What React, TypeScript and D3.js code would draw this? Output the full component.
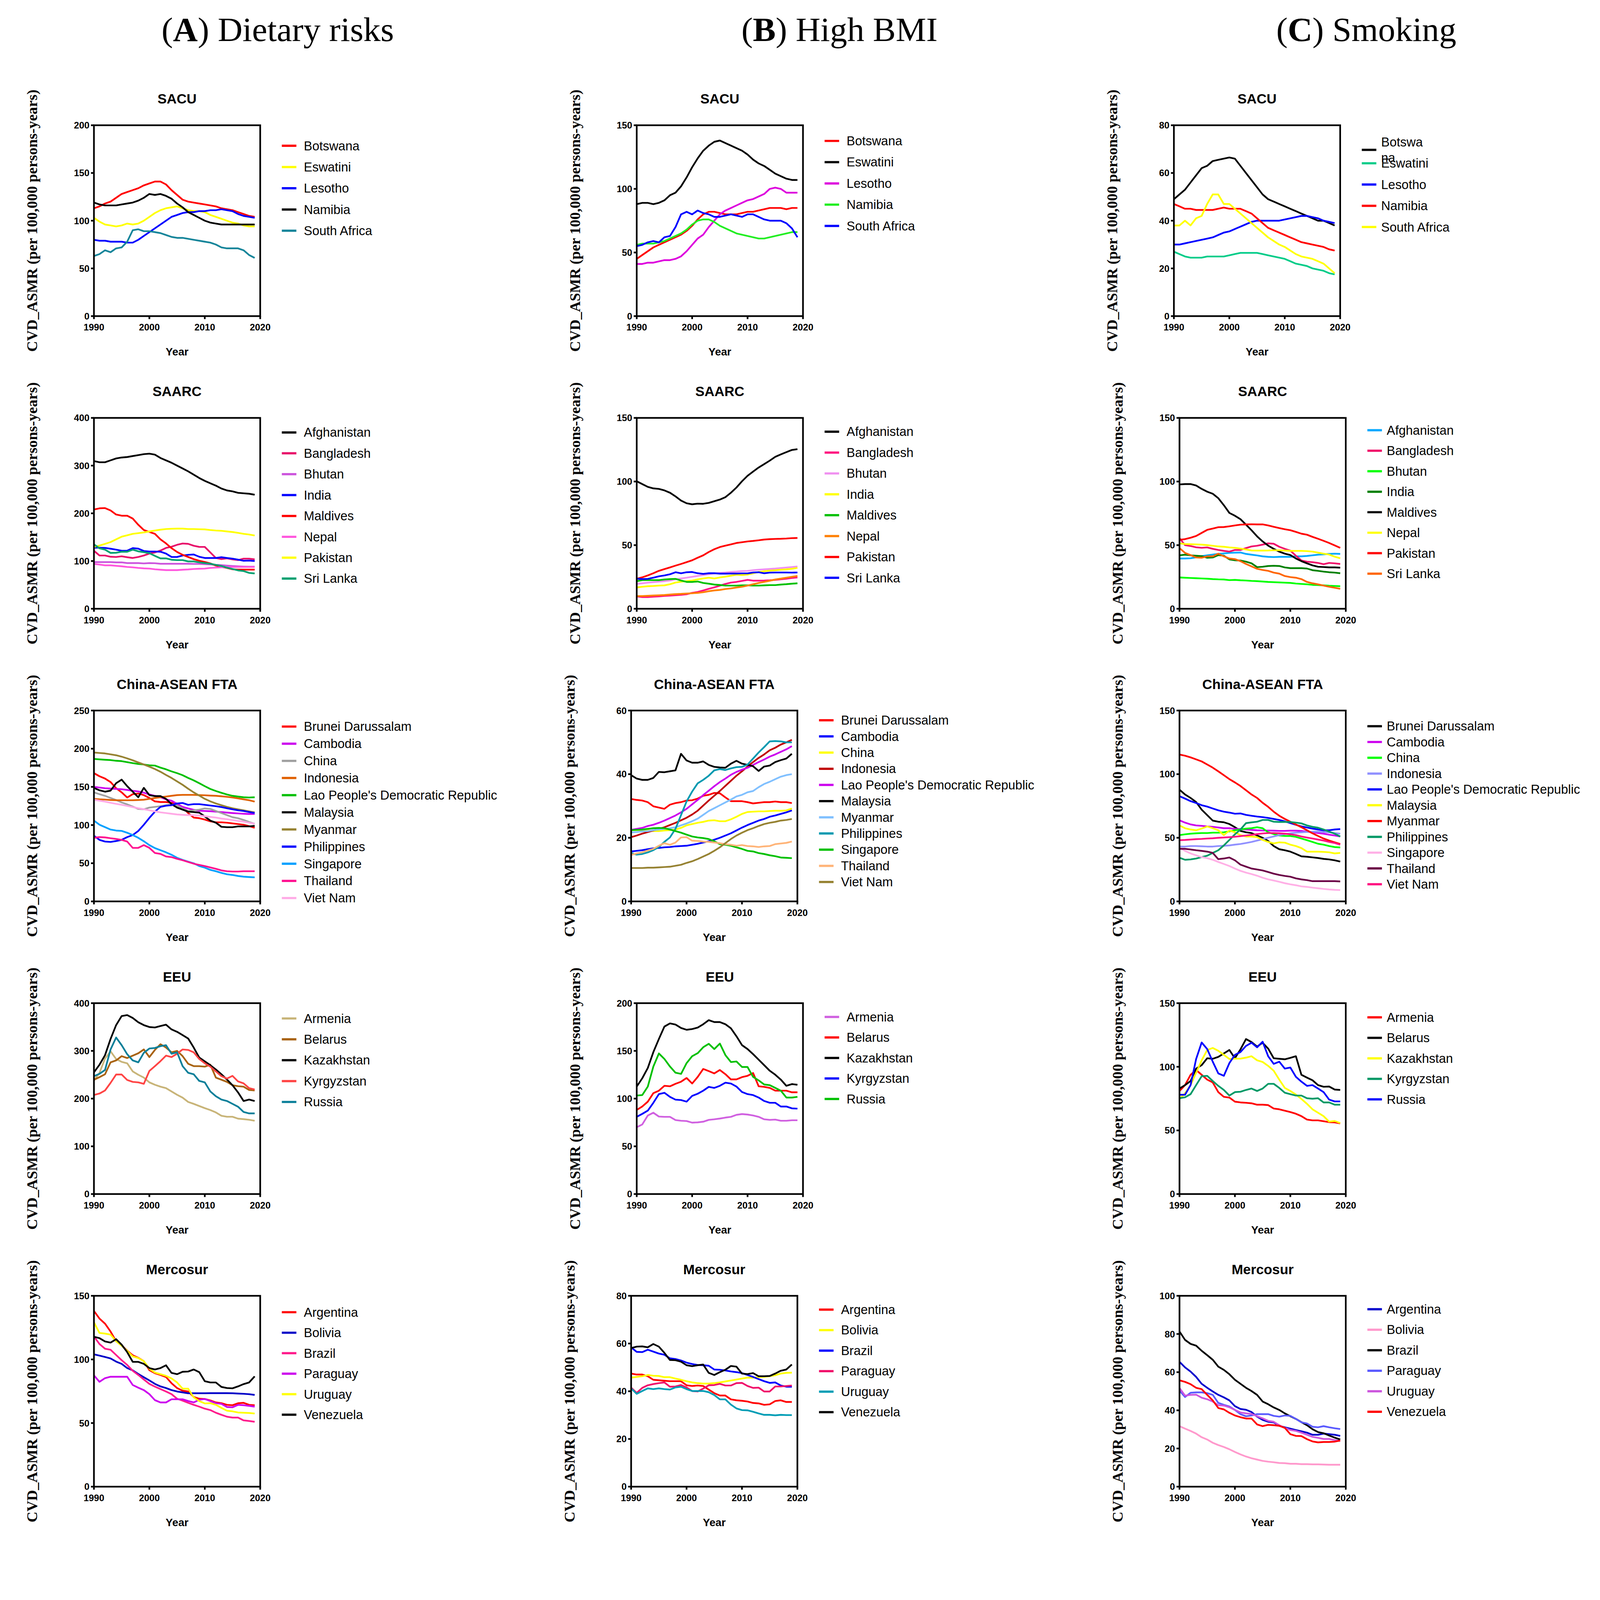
import * as d3 from "d3";

// ---- years (x axis categories) ----
const years = [1990, 1991, 1992, 1993, 1994, 1995, 1996, 1997, 1998, 1999, 2000, 2001, 2002, 2003, 2004, 2005, 2006, 2007, 2008, 2009, 2010, 2011, 2012, 2013, 2014, 2015, 2016, 2017, 2018, 2019];
const xTicks = [1990, 2000, 2010, 2020];

// ---- country lists ----
const sacuNames = ["Botswana", "Eswatini", "Lesotho", "Namibia", "South Africa"];
const saarcNames = ["Afghanistan", "Bangladesh", "Bhutan", "India", "Maldives", "Nepal", "Pakistan", "Sri Lanka"];
const caftaNames = ["Brunei Darussalam", "Cambodia", "China", "Indonesia", "Lao People's Democratic Republic", "Malaysia", "Myanmar", "Philippines", "Singapore", "Thailand", "Viet Nam"];
const eeuNames = ["Armenia", "Belarus", "Kazakhstan", "Kyrgyzstan", "Russia"];
const mercNames = ["Argentina", "Bolivia", "Brazil", "Paraguay", "Uruguay", "Venezuela"];

// ---- (A) Dietary risks ----
const dietSacuBotswana = [113, 115, 118, 120, 124, 128, 130, 132, 134, 137, 139, 141, 141, 138, 132, 127, 122, 120, 119, 118, 117, 116, 115, 113, 112, 111, 109, 107, 105, 104];
const dietSacuEswatini = [103, 99, 96, 95, 94, 95, 97, 96, 97, 100, 104, 108, 111, 113, 114, 115, 113, 111, 110, 110, 109, 106, 104, 102, 100, 98, 97, 95, 94, 94];
const dietSacuLesotho = [80, 79, 79, 78, 78, 78, 77, 77, 80, 84, 88, 92, 96, 100, 104, 106, 108, 109, 109, 110, 110, 111, 111, 112, 111, 110, 107, 105, 104, 103];
const dietSacuNamibia = [119, 117, 116, 116, 116, 117, 118, 119, 121, 124, 128, 127, 128, 126, 123, 118, 114, 109, 106, 103, 100, 98, 97, 96, 96, 96, 96, 96, 96, 96];
const dietSacuSouthAfrica = [63, 65, 69, 67, 71, 72, 78, 90, 91, 89, 89, 88, 87, 85, 83, 82, 82, 81, 80, 79, 78, 77, 75, 72, 71, 71, 71, 69, 64, 61];

const dietSaarcAfghanistan = [309.5, 307, 307, 311, 315, 317, 318, 320, 322, 324, 325, 323, 316, 311, 306, 300, 294, 288, 281, 274, 268, 263, 258, 252, 248, 246, 243, 242, 241, 239];
const dietSaarcBangladesh = [121.5, 111.6, 111.6, 109, 108.5, 110, 108, 106.4, 108.5, 111.6, 115.7, 118, 122, 127.5, 130, 134, 136.8, 136, 132, 129.6, 129.6, 118, 106.4, 104, 105.6, 103.5, 102, 105, 105, 103.5];
const dietSaarcBhutan = [97.8, 97.8, 97.8, 97.8, 97.2, 97.2, 95.7, 95.7, 95.7, 95, 95.7, 95.4, 94.3, 94.3, 94.3, 94.3, 94.3, 94.3, 94, 94, 93.4, 92.8, 92, 91.5, 90.5, 89.7, 89, 88.5, 88.2, 88.2];
const dietSaarcIndia = [128, 128, 127.5, 125.8, 123.8, 121.5, 121.8, 127, 126, 121, 120, 120, 119.5, 115.7, 108.5, 108.5, 111.6, 113, 113.7, 109, 106.4, 106.4, 106.4, 108, 106.4, 105, 103, 100.6, 101, 100];
const dietSaarcMaldives = [208, 210.5, 211, 206, 197.5, 195, 195, 189, 176, 165, 161, 157, 145.5, 137, 127, 119, 113, 108.5, 104, 100.6, 98, 95, 90.5, 87.6, 85.6, 82.7, 82, 82, 82, 82];
const dietSaarcNepal = [94, 92.5, 91, 91, 90, 89, 87.6, 86.8, 85.6, 84.7, 84.2, 82.7, 81.8, 81, 81, 81, 81.8, 82.4, 83.3, 83.9, 84.2, 85.6, 86.2, 86.8, 87, 87.6, 87.6, 87.6, 87.6, 87.6];
const dietSaarcPakistan = [129.6, 132.5, 136, 139.7, 145.5, 151, 154, 157, 158.5, 160, 162, 164, 165.7, 167, 167.7, 168, 168, 167, 167, 166.6, 166.3, 165, 164, 163.4, 162, 160.8, 159, 157, 155.6, 153.6];
const dietSaarcSriLanka = [135, 126.7, 123.8, 117, 117.4, 119.5, 119.5, 123.8, 120.3, 118.6, 116.5, 110.8, 105.6, 105.6, 102.7, 102, 102, 99.2, 99.2, 97.2, 95.7, 94.3, 92, 89.7, 86.2, 83.3, 80.4, 79, 75.2, 74];

const dietCaBrunei = [168, 163.9, 160.9, 156.3, 148.3, 142.8, 136.1, 140.4, 141.3, 139.2, 135.5, 131, 130.1, 130.1, 129.2, 128.3, 122.9, 115.7, 109.8, 109, 107.2, 104.9, 103.6, 103.6, 103.1, 102.2, 101.3, 100.4, 98.6, 96.4];
const dietCaCambodia = [150, 149.1, 148.2, 147.8, 147.3, 146.9, 146, 144.9, 144, 142.4, 140, 138.3, 136.4, 133.7, 131.9, 127.8, 123.8, 121.7, 119.9, 118.8, 118.4, 118.1, 117.5, 117, 116.3, 115.7, 115.2, 114.8, 114.5, 114.5];
const dietCaChina = [142.8, 140.4, 138.3, 135.5, 132.8, 129.6, 127.1, 124.2, 121.1, 120.6, 122.9, 123.8, 124.7, 126, 127.1, 125.6, 122, 118.4, 119.3, 120.2, 121.7, 121.1, 118.4, 115.7, 113, 110.3, 109, 106.7, 104, 101.7];
const dietCaIndonesia = [134.3, 133.7, 133.4, 132.8, 132.5, 132.5, 132.5, 132.5, 132.8, 133.2, 134.3, 135.5, 136.4, 137.3, 138.3, 139.2, 139.5, 139.5, 139.5, 139.2, 139, 138.6, 138.3, 137.7, 137, 136.1, 135, 133.7, 132.5, 130.7];
const dietCaLao = [186.6, 186, 185.5, 185.1, 184.2, 183.7, 182.4, 181.1, 180, 179.3, 178.3, 177.9, 175.2, 173, 170.3, 168, 165.3, 161.7, 158.5, 154.8, 150.9, 147.3, 144.6, 142.2, 140, 138.3, 137.3, 136.4, 136.1, 136.4];
const dietCaMalaysia = [148.7, 145.5, 143.7, 145.1, 154.8, 159.5, 150.9, 143.7, 136.4, 148.7, 139.2, 137.9, 137.9, 134.3, 127.4, 122.9, 120.2, 117.5, 117, 116.3, 111.2, 105.8, 103.1, 97.7, 97.2, 97.2, 98.2, 98.2, 98.2, 99];
const dietCaMyanmar = [195, 194.4, 193.8, 192.6, 191.4, 189.6, 187.3, 184.8, 182, 179.3, 176.5, 173.4, 169.8, 165.6, 161.7, 157.2, 152.7, 147.6, 142.8, 138.6, 134.3, 131, 128.3, 126, 123.8, 122, 120.6, 119.3, 117.9, 116.6];
const dietCaPhilippines = [86, 80.6, 78.4, 77.9, 79.1, 80.6, 84.2, 86.9, 92.3, 100.4, 109.4, 117.5, 123.8, 125.3, 126, 128.3, 128.9, 126.5, 127.4, 127.4, 126.5, 125.6, 124.7, 123.5, 122, 120.6, 119.3, 118.4, 117, 115.7];
const dietCaSingapore = [105.8, 100.4, 97.2, 94.1, 92.8, 92.3, 89.9, 86.9, 83.3, 78.8, 73.7, 69.8, 67.1, 64.3, 61.1, 57.1, 54.4, 52.1, 49.9, 46.3, 44.2, 41.3, 39.5, 37.3, 35.5, 34.6, 33.3, 32.4, 31.9, 31.5];
const dietCaThailand = [83.3, 84.2, 83.8, 82.7, 81.8, 80.6, 78.4, 70.1, 70.1, 73.7, 70.1, 63.4, 62.2, 58.9, 58, 55.7, 53.9, 51.7, 49.4, 47.8, 46.3, 44.5, 42.7, 40.6, 39.5, 39.1, 39.1, 39.5, 39.5, 39.5];
const dietCaVietNam = [133.2, 131.9, 130.7, 129.2, 127.8, 126.5, 125.1, 123.5, 122, 120.8, 119.3, 117.9, 116.6, 115.7, 114.8, 113.9, 113.4, 113, 113, 112.5, 111.6, 110.7, 109.8, 108.5, 107.6, 106.5, 105.4, 104.4, 103.1, 101.7];

const dietEeuArmenia = [238, 254, 284, 299, 283, 277, 274, 257, 250, 244, 234, 229, 225, 222, 215, 208, 202, 193, 189, 184.5, 180, 176, 171, 164, 162, 162, 158, 157, 155.6, 153.6];
const dietEeuBelarus = [239.5, 245, 251, 276, 280, 289, 285, 290, 295, 303, 287, 302, 314, 307, 297, 300, 289, 273, 268, 268, 267, 271, 244, 239.5, 235, 228, 226, 225, 218, 217];
const dietEeuKazakhstan = [255, 271, 291, 325, 354, 373, 375, 369, 360, 354, 350, 349, 352, 355, 345, 340, 333, 326, 307, 286, 278, 270, 261, 251, 240, 228, 213, 195, 198, 195];
const dietEeuKyrgyzstan = [207.7, 210.6, 217, 233, 250.5, 250.5, 239, 235, 234, 231, 258, 268, 278.5, 290, 287, 294, 303, 302, 297, 283, 274, 267, 257, 247, 242, 247.6, 236, 232, 222, 219];
const dietEeuRussia = [247, 252, 260, 303, 328, 312, 293, 280, 276, 296, 305, 306, 310, 312, 294, 297, 268, 254, 251, 237, 234, 215, 205, 198, 195, 189, 183, 172, 169, 169];

const dietMercArgentina = [138.1, 132.1, 128.1, 121.9, 114.3, 111.1, 106.9, 103.3, 101.3, 98.6, 91.6, 89.2, 87.8, 86.2, 81.3, 77.5, 75.4, 74.8, 70.5, 69.1, 68.9, 67.8, 66.2, 65.6, 64.3, 64, 65.6, 65.9, 64.3, 64];
const dietMercBolivia = [104, 103, 101.9, 100.8, 98.3, 96.5, 93.2, 91.4, 88.6, 86, 83.5, 80.8, 78.8, 77.5, 75.9, 74.8, 74.1, 73.4, 73.4, 73.4, 73.4, 73.5, 73.5, 73.5, 73.5, 73.4, 73.2, 73, 72.7, 72.1];
const dietMercBrazil = [118.1, 112.1, 108.4, 107.6, 103.5, 99.4, 95.7, 91.1, 87.8, 84.2, 80.8, 78.6, 76.7, 74.8, 72.7, 69.1, 67.6, 65.9, 64.3, 62.9, 61.3, 60.2, 58.1, 56.5, 55, 54.3, 54.3, 52.1, 51.6, 51];
const dietMercParaguay = [87.5, 82.4, 85.3, 86.4, 86.4, 86.4, 86.4, 79.9, 77.8, 75.9, 72.7, 68, 66.2, 66.2, 68.7, 68.7, 68.7, 67.3, 66.2, 68.3, 68.9, 67.3, 65.6, 65.1, 62.6, 62.4, 64.3, 64, 63.5, 62.9];
const dietMercUruguay = [129.2, 120.8, 120.3, 119.5, 114.3, 110.8, 106.7, 102.4, 101.1, 98.6, 92.7, 89.7, 88.4, 87.1, 85.1, 81.9, 77, 77, 70.2, 67.3, 65.4, 65.6, 64.3, 61.9, 59.7, 59.2, 58.3, 58.1, 57.9, 57.5];
const dietMercVenezuela = [117.8, 116.7, 114.1, 113.2, 115.9, 111.6, 105.7, 98.1, 98.1, 96.5, 93.2, 92.1, 93.2, 95.4, 89.4, 88.4, 90.3, 90.5, 92.1, 90, 82.9, 81.9, 81.9, 78.4, 77.5, 77.3, 78.8, 80.6, 81.9, 86.7];

// ---- (B) High BMI ----
const bmiSacuBotswana = [45, 48, 51, 54, 56, 58, 60, 62, 64, 67, 71, 76, 80, 82, 82, 81, 80, 80, 80, 81, 82, 82, 83, 84, 85, 85, 85, 84, 85, 85];
const bmiSacuEswatini = [88, 89, 89, 88, 89, 91, 95, 97, 102, 109, 117, 124, 130, 134, 137, 138, 136, 134, 132, 130, 127, 123, 120, 118, 115, 112, 110, 108, 107, 107];
const bmiSacuLesotho = [41, 41, 42, 42, 43, 44, 44, 45, 47, 51, 56, 61, 64, 70, 75, 80, 83, 85, 87, 89, 91, 92, 94, 96, 100, 101, 100, 97, 97, 97];
const bmiSacuNamibia = [56, 57, 57, 57, 58, 59, 61, 63, 65, 68, 72, 75, 76, 76, 74, 71, 69, 67, 65, 64, 63, 62, 61, 61, 62, 63, 64, 65, 66, 66];
const bmiSacuSouthAfrica = [55, 56, 58, 59, 58, 62, 63, 70, 80, 82, 80, 83, 81, 80, 78, 78, 79, 80, 79, 78, 80, 80, 78, 76, 75, 75, 75, 73, 69, 62];

const bmiSaarcAfghanistan = [100.2, 98, 95.8, 94.6, 94.2, 93, 91.2, 88.3, 85, 82.9, 82.1, 82.6, 82.5, 83.2, 84.5, 85.8, 87.7, 91.2, 95.3, 100.2, 104.5, 107.8, 111, 113.7, 116.4, 119.4, 121.3, 123.1, 124.8, 125.4];
const bmiSaarcBangladesh = [9.7, 9.2, 9.2, 9.5, 9.7, 10.1, 10.3, 10.6, 10.9, 11.4, 12.5, 13.2, 14.4, 15.7, 16.8, 18.1, 19.5, 20.6, 21.1, 21.9, 22.7, 22.1, 22.1, 22.2, 22.4, 22.7, 23.1, 23.6, 24.2, 24.6];
const bmiSaarcBhutan = [19.5, 20, 20.5, 20.9, 21.3, 21.7, 22.2, 23.1, 23.8, 24.4, 25.1, 25.8, 26.5, 27.1, 27.7, 28.2, 28.5, 28.9, 29.2, 29.6, 29.8, 30.3, 30.7, 31, 31.3, 31.6, 32, 32.4, 32.8, 33.2];
const bmiSaarcIndia = [16.8, 17.3, 17.7, 17.9, 18.2, 18.4, 19.3, 20.6, 21.3, 21.7, 22.2, 23.1, 23.8, 24.4, 23.8, 24.6, 25.2, 26, 26.8, 26.5, 26.9, 27.9, 28.9, 29.5, 30, 30.3, 30.7, 31, 31.4, 32.2];
const bmiSaarcMaldives = [21.7, 22.5, 22.5, 22.5, 22.5, 23, 23.3, 23.5, 22.2, 21.1, 21.1, 21.4, 20.3, 19.7, 19, 18.7, 18.2, 18.2, 18.2, 18.4, 18.4, 18.2, 18.2, 18.4, 18.6, 18.6, 19, 19.3, 19.7, 20];
const bmiSaarcNepal = [10, 10, 10.2, 10.4, 10.6, 10.8, 11.2, 11.5, 11.7, 12, 12.2, 12.5, 13, 13.8, 14.4, 14.8, 15.5, 16, 16.7, 17.3, 18.2, 19.3, 20.3, 21.1, 22, 23, 23.7, 24.4, 25.1, 25.8];
const bmiSaarcPakistan = [23.6, 24.7, 26.2, 27.9, 29.8, 31.2, 32.5, 33.9, 35.2, 36.6, 38.1, 40.1, 42, 44.6, 46.8, 48.5, 49.6, 50.6, 51.7, 52.3, 52.9, 53.3, 53.8, 54.4, 54.7, 54.9, 55, 55.2, 55.5, 55.6];
const bmiSaarcSriLanka = [23.6, 23.3, 23.5, 24.4, 25.5, 26.2, 27.1, 28.7, 27.9, 28.7, 28.9, 27.9, 27.4, 27.9, 27.9, 27.6, 27.6, 27.7, 27.7, 27.8, 27.8, 28.5, 28.7, 27.9, 28.4, 28.5, 28.5, 28.5, 28.4, 28.5];

const bmiCaBrunei = [32.2, 31.9, 31.7, 31.2, 29.9, 29.5, 29.1, 30.4, 30.9, 31.2, 31.7, 31.8, 32.3, 33.2, 33.5, 34.1, 34, 32.7, 31.5, 31.5, 31.5, 31.2, 30.8, 31, 31.2, 31.2, 31.4, 31.2, 31.2, 30.9];
const bmiCaCambodia = [15.7, 15.9, 16.1, 16.4, 16.7, 16.8, 17, 17.1, 17.3, 17.4, 17.5, 17.8, 18.1, 18.5, 18.9, 19.4, 20, 20.7, 21.4, 22.3, 23.2, 24, 24.7, 25.4, 25.9, 26.6, 27, 27.5, 28, 28.6];
const bmiCaChina = [22.4, 22.4, 22.4, 22.3, 22.1, 22.1, 22.3, 22.4, 22.6, 23.1, 23.9, 24.3, 24.7, 25, 25.4, 25.5, 25.2, 25.2, 25.8, 26.6, 27.5, 28.1, 28.2, 28.3, 28.3, 28.4, 28.5, 28.5, 28.6, 29.2];
const bmiCaIndonesia = [20.2, 20.7, 21.3, 21.8, 22.3, 22.8, 23.3, 24, 24.7, 25.5, 26.3, 27.3, 28.5, 30.1, 31.7, 33.2, 34.7, 36.3, 37.9, 39.5, 40.9, 42.4, 43.8, 45.1, 46.2, 47.5, 48.3, 49.3, 50, 50.8];
const bmiCaLao = [22.5, 22.8, 23.1, 23.7, 24.1, 24.7, 25.4, 26.2, 27, 28, 29.1, 30.5, 31.9, 33.4, 34.8, 36.2, 37.5, 38.6, 39.8, 40.7, 41.4, 42, 42.9, 43.8, 44.6, 45.5, 46.2, 47, 47.8, 48.8];
const bmiCaMalaysia = [39.7, 38.6, 38.2, 38.2, 38.8, 40.7, 40.6, 40.9, 41.2, 46.4, 44.3, 43.6, 43.6, 44, 42.9, 42.3, 42.1, 42, 43.3, 44.2, 43.3, 42.9, 42.5, 41, 42.4, 42.7, 43.8, 44.4, 44.9, 46.4];
const bmiCaMyanmar = [21.7, 21.8, 22, 22.1, 22.4, 22.6, 22.8, 23, 23.3, 23.9, 24.5, 25.2, 26, 27.2, 28.4, 29.3, 30.2, 31.1, 32, 33, 33.5, 34.3, 34.7, 35.9, 36.9, 37.6, 38.4, 39.2, 39.7, 40];
const bmiCaPhilippines = [15.2, 14.7, 14.9, 15.4, 16.1, 17.1, 18.7, 20.1, 22.8, 27.1, 31.4, 34.5, 37.1, 38.2, 39.5, 41.2, 41.6, 41.3, 41.8, 42.2, 42.3, 43, 44.9, 46.8, 48.5, 50.3, 50.4, 50.3, 50, 50];
const bmiCaSingapore = [22.4, 22.5, 22.6, 22.8, 23, 23.1, 23, 22.6, 22.1, 21.6, 21, 20.4, 20.1, 19.9, 19.6, 18.9, 18, 17.8, 17.5, 17, 16.5, 15.9, 15.7, 15.2, 14.9, 14.5, 14.2, 13.8, 13.7, 13.6];
const bmiCaThailand = [14.6, 15.1, 15.4, 16, 16.5, 17.5, 18.3, 17.8, 18.5, 20.1, 20.2, 19.1, 19, 18.8, 18.7, 18.5, 18.3, 18, 17.8, 17.5, 17.7, 17.4, 17.3, 17.1, 17.3, 17.4, 18, 18.2, 18.4, 18.8];
const bmiCaVietNam = [10.5, 10.5, 10.5, 10.6, 10.6, 10.7, 10.8, 10.9, 11.2, 11.5, 12.1, 12.6, 13.3, 14.1, 14.9, 15.9, 17, 18.3, 19.6, 20.7, 21.6, 22.4, 23, 23.7, 24.3, 24.7, 25, 25.4, 25.6, 25.9];

const bmiEeuArmenia = [70, 72.9, 82.3, 85.2, 81.2, 80.9, 80.9, 77.5, 76.8, 76.5, 74.8, 75.1, 75.8, 77.7, 78.3, 79.1, 80.1, 80.9, 83, 83.8, 83.3, 82.3, 80.9, 78.3, 77.7, 78, 76.8, 76.8, 77.3, 77.3];
const bmiEeuBelarus = [88.1, 91.7, 96.8, 105.7, 108.3, 113.4, 112.9, 115.5, 117.7, 121.6, 115.8, 122.7, 131.1, 128.8, 126.4, 130, 125.6, 120.1, 120.1, 122.5, 123.9, 126.8, 112.9, 112.3, 111.2, 108.3, 108.3, 108.3, 106.6, 106.6];
const bmiEeuKazakhstan = [112.6, 121.3, 132.1, 148.7, 162.5, 175.5, 178.8, 177.6, 174, 172.1, 172.9, 174.4, 177.9, 182.2, 180.2, 180.2, 177.9, 173.6, 165.3, 156, 151.9, 146.6, 140.8, 135, 129.2, 125, 119.9, 113.4, 115.2, 114.5];
const bmiEeuKyrgyzstan = [80.9, 84, 87.4, 95.6, 104.7, 106.1, 101.8, 98.9, 98.5, 96.8, 102.8, 105.1, 108.3, 112.3, 111.2, 113.4, 116.7, 115.8, 112.6, 106.9, 104.7, 103.7, 101.1, 97.5, 95.6, 95.6, 91.7, 91.7, 89.8, 89.5];
const bmiEeuRussia = [103.2, 103.7, 112.6, 133.6, 147.3, 141.5, 133.6, 127.1, 125.9, 137.2, 144.4, 147.6, 153.8, 157.4, 151.9, 157.7, 145.6, 138.3, 138.9, 133.1, 133.1, 122.7, 119.1, 114.8, 114.1, 111.2, 108.3, 101.1, 101.1, 101.8];

const bmiMercArgentina = [47.4, 47, 47, 46.3, 44.8, 44.6, 44.4, 44.2, 44.2, 44.2, 42.5, 42.2, 42.4, 42.2, 40.7, 39.2, 38.2, 38.2, 36.6, 36.2, 36, 35.7, 35.1, 34.9, 34.3, 34.5, 35.9, 36.2, 35.5, 35.5];
const bmiMercBolivia = [45.7, 46, 46.3, 46.8, 46.5, 46.4, 45.9, 45.9, 45.3, 44.8, 44.2, 43.7, 43.4, 43.2, 43.2, 43.4, 43.7, 44.1, 44.5, 44.9, 45.3, 45.7, 45.7, 45.9, 46, 46.3, 46.7, 47.4, 47.7, 47.8];
const bmiMercBrazil = [58.4, 56.5, 56.4, 57.4, 56.6, 55.8, 55.3, 53.8, 53.5, 52.9, 52, 51.4, 51, 50.9, 50.7, 49.1, 49, 48.7, 48.3, 48, 47.6, 46.8, 46, 45.1, 44.2, 43.5, 43.7, 42.4, 41.9, 41.9];
const bmiMercParaguay = [41.5, 39.3, 41.4, 42.5, 43, 43.4, 43.7, 41.9, 42, 42.6, 41.6, 40.1, 39.9, 41.1, 42.5, 42.6, 43.1, 42.4, 42.4, 43.4, 43.5, 42.2, 41.4, 41.5, 39.9, 39.9, 42, 42, 42.2, 42.4];
const bmiMercUruguay = [41.2, 38.9, 40.1, 41.2, 40.9, 41.2, 40.9, 40.7, 41.6, 41.9, 40.9, 40.1, 40.1, 40.1, 39.6, 38.4, 36.6, 36.6, 34.4, 32.8, 32.1, 32, 31.4, 30.7, 30.1, 30.1, 29.9, 30.1, 30, 30];
const bmiMercVenezuela = [58.1, 58.7, 58.8, 58.4, 59.8, 58.7, 56.1, 53.1, 53, 52.4, 50.9, 50.5, 50.9, 51.2, 47.7, 46.8, 48, 49, 50.6, 50.3, 47.4, 47.2, 47.6, 46.3, 46.3, 46.4, 47.4, 48.6, 49.1, 51.2];

// ---- (C) Smoking ----
const smkSacuBotswana = [49, 51, 53, 56, 59, 62, 63, 65, 65.5, 66, 66.5, 66, 63, 60, 57, 54, 51, 49, 48, 47, 46, 45, 44, 43, 42, 41, 40, 40, 39, 38];
const smkSacuEswatini = [27, 26, 25, 24.5, 24.5, 24.5, 25, 25, 25, 25, 25.5, 26, 26.5, 26.5, 26.5, 26.5, 26, 25.5, 25, 24.5, 24, 23, 22, 21.5, 21, 20, 19.5, 19, 18, 17.5];
const smkSacuLesotho = [30, 30, 30.5, 31, 31.5, 32, 32.5, 33, 34, 35, 35.5, 36.5, 37.5, 38.5, 39.5, 40, 40, 40, 40, 40, 40.5, 41, 41.5, 42, 42, 41.5, 41, 40, 39.5, 39];
const smkSacuNamibia = [47, 46, 45, 45, 44.5, 44.5, 44.5, 44.5, 45, 45.5, 45, 45, 45, 44, 43, 41, 39, 37, 36, 35, 34, 33, 32, 31, 30.5, 30, 29.5, 29, 28, 27.5];
const smkSacuSouthAfrica = [38, 38, 40, 38, 41, 42, 47, 51, 51, 47, 47, 45, 43, 41, 39, 37, 35, 33, 31.5, 30, 29, 27.5, 26, 25, 24.5, 24, 23, 22, 20, 18];

const smkSaarcAfghanistan = [39.5, 39.5, 39.7, 40.4, 41.4, 42, 42.6, 43.1, 43.5, 43.9, 44.1, 44.2, 43.1, 42.5, 41.9, 41.2, 40.8, 40.6, 40.8, 40.8, 40.8, 41.2, 41.2, 41.5, 42, 42.5, 42.8, 43.1, 43.3, 43.1];
const smkSaarcBangladesh = [55.5, 50, 49.3, 48.3, 47.9, 48.2, 47.1, 46.2, 45.5, 44.9, 46.2, 46.2, 47.7, 49, 49.5, 50.4, 51.4, 51.1, 48.7, 47.1, 45.7, 41.7, 37.9, 37, 36.6, 36, 35, 36, 35.7, 35.2];
const smkSaarcBhutan = [24.6, 24.4, 24.2, 24, 23.8, 23.6, 23.3, 23.1, 23, 22.5, 22.7, 22.4, 22.2, 21.9, 21.7, 21.4, 21.1, 20.9, 20.7, 20.5, 20.3, 19.8, 19.5, 19.2, 18.8, 18.6, 18.4, 18.1, 17.9, 17.7];
const smkSaarcIndia = [42, 42.5, 42, 41.7, 41.4, 40.1, 40.3, 42.2, 41.7, 38.8, 38.1, 37.9, 37, 35.7, 32.7, 33, 33.6, 33.8, 33.6, 32.5, 31.9, 31.9, 31.9, 31.6, 30.3, 29.8, 29.2, 28.7, 28.4, 27.9];
const smkSaarcMaldives = [97.7, 98, 98, 96.9, 94.2, 92, 90.4, 86.9, 81.4, 75.3, 73.1, 70.4, 66.1, 61.7, 56.9, 52.9, 49.6, 47.1, 44.9, 43.3, 42.2, 39.5, 37.4, 35.7, 34.1, 33, 32.8, 32.5, 32.5, 32.3];
const smkSaarcNepal = [51.4, 50.9, 50.7, 50.6, 50.4, 50, 49.5, 49, 48.7, 48.2, 47.9, 47.3, 46.6, 45.8, 45.7, 45.7, 45.8, 46, 46, 45.7, 45.5, 45.5, 45.5, 45.3, 44.9, 44.1, 43.3, 42.6, 40.9, 39.7];
const smkSaarcPakistan = [54.2, 54.7, 55.8, 57.2, 59.6, 62, 63, 64.1, 64.2, 64.8, 65.5, 66.1, 66.3, 66.4, 66.3, 66.3, 65.5, 64.4, 63.4, 62.5, 61.7, 60.4, 59, 58.2, 56.5, 55, 53.4, 51.7, 49.8, 47.9];
const smkSaarcSriLanka = [47.7, 43.9, 42.2, 40.3, 40.1, 41.2, 41.2, 43.3, 41.2, 39.5, 39, 37.4, 35.2, 33.3, 31.4, 30.5, 29.8, 28.4, 27.6, 25.7, 24.9, 24.4, 23.3, 21.1, 20, 19.2, 18.2, 17.3, 16.5, 15.7];

const smkCaBrunei = [87.8, 84, 81.3, 78.1, 72.1, 67.8, 63.5, 62.6, 62.2, 60.8, 58.3, 55.4, 54.3, 53.7, 51.8, 50, 47.5, 43.5, 41, 40.2, 39.1, 37.3, 35.4, 35.1, 34.6, 34.1, 33.4, 33, 32.3, 31.3];
const smkCaCambodia = [63.7, 61.9, 60.5, 59.7, 59.4, 58.9, 58.6, 58.1, 57.5, 57.5, 57, 56.8, 56.5, 56.2, 55.9, 55.7, 55.7, 55.6, 55.4, 55.4, 55.6, 55.6, 55.4, 54.8, 54.3, 53.7, 53.2, 52.4, 51.8, 51];
const smkCaChina = [52.1, 52.7, 53.2, 53.5, 53.7, 53.7, 54, 54, 54.3, 55, 55.9, 56.5, 57.2, 57.5, 58.3, 57.5, 54.3, 52.9, 51.8, 51.4, 51.4, 50.7, 49.4, 48.1, 46.7, 45.3, 44.6, 43.5, 42.7, 42.4];
const smkCaIndonesia = [43.1, 43.1, 43.5, 43.5, 43.3, 43.1, 43.1, 43.5, 43.7, 44, 44.6, 45.1, 45.9, 46.7, 47.8, 48.9, 50, 51, 52.1, 52.9, 53.5, 54, 54.3, 54.6, 54.8, 54.8, 54.6, 54.3, 53.7, 53.2];
const smkCaLao = [82.7, 80.8, 78.8, 77.3, 75.6, 74.5, 73, 71.6, 70.5, 69.8, 68.9, 69.1, 68, 67.3, 66.7, 66.2, 65.6, 64.8, 64, 62.9, 61.5, 60.2, 58.9, 58.1, 57.2, 56.5, 55.9, 55.9, 56.5, 56.8];
const smkCaMalaysia = [59.7, 57.5, 56.5, 55.9, 57.2, 58.9, 57.5, 55.9, 52.1, 55.7, 54.3, 52.1, 51, 51, 50.5, 48.3, 46.7, 45.6, 46.4, 46.2, 44.6, 43.5, 41.9, 39.1, 39.1, 39.1, 38.9, 38.6, 37.7, 38.1];
const smkCaMyanmar = [115.4, 114.5, 113.2, 111.6, 110, 107.6, 105.1, 102.2, 99.2, 96.1, 93.5, 90.7, 87.4, 84, 81.3, 77.5, 74.3, 70.5, 67.3, 64.8, 62.6, 60.4, 58.3, 55.9, 53.5, 51.4, 49.4, 47.8, 46.4, 45.1];
const smkCaPhilippines = [34.3, 32.7, 33, 33.7, 34.8, 35.9, 38.1, 40.2, 44, 48.3, 52.7, 56.5, 61.5, 62.1, 62.6, 64, 64, 62.6, 62.4, 62.4, 62.4, 61.9, 61.3, 59.7, 58.6, 57.9, 56.5, 54.8, 53.2, 51];
const smkCaSingapore = [42.4, 39.7, 37.7, 36.2, 34.8, 34, 32.7, 31, 29.4, 27.8, 25.8, 24, 22.6, 21.5, 20.2, 18.6, 17.3, 16.4, 15.4, 14.3, 13.4, 12.7, 11.8, 11.4, 10.8, 10.3, 9.8, 9.4, 9.1, 8.9];
const smkCaThailand = [41.3, 41.3, 40.8, 40.2, 39.7, 39.1, 38.1, 33.2, 33.7, 34.5, 32.3, 28.9, 27.3, 25.8, 25.1, 24.3, 23.1, 21.8, 20.8, 20, 19.4, 18.1, 17.3, 16.7, 15.9, 15.9, 15.9, 15.9, 15.9, 15.7];
const smkCaVietNam = [48.1, 48.3, 48.6, 48.9, 49.1, 49.4, 49.6, 50, 50.2, 50.5, 50.8, 51.3, 51.8, 52.3, 52.9, 53.4, 53.7, 53.7, 53.5, 53.2, 52.7, 52.1, 51, 50.2, 49.4, 48.6, 47.8, 46.7, 45.9, 44.6];

const smkEeuArmenia = [81, 85.6, 93.7, 97.5, 93.7, 89.9, 87.7, 80.1, 76.4, 75.8, 72.6, 72, 71.7, 71.3, 70.2, 70.2, 69.9, 67.2, 66.6, 65.5, 64.4, 63.1, 61.2, 58.5, 57.9, 57.9, 57.2, 56.5, 56.3, 55.5];
const smkEeuBelarus = [82.9, 85.6, 88.8, 98.6, 101.3, 106.7, 106.3, 107.8, 110.5, 113.2, 106.7, 113.7, 121.8, 119.4, 115.9, 118.9, 114.3, 106.7, 106.3, 105.9, 107, 108.3, 93.7, 91.5, 89.4, 85.6, 84.3, 84.5, 82.1, 81.8];
const smkEeuKazakhstan = [74.7, 79.1, 85.6, 95.3, 105.1, 113.2, 114.8, 112.6, 109.4, 106.1, 106.4, 106.4, 107.2, 108.3, 105.1, 103.8, 100.7, 96.9, 89.9, 83.4, 81, 78.2, 74.7, 70.9, 66.6, 63.9, 61.2, 56.9, 57.4, 55.8];
const smkEeuKyrgyzstan = [75.3, 76, 78.5, 85.6, 92.6, 92.9, 88.8, 85, 81.8, 77.4, 80.1, 80.4, 81.8, 82.9, 81, 82.9, 86.6, 86.6, 83.4, 79.6, 78.5, 77.4, 77.4, 75.3, 74.9, 75.3, 72, 72, 70.2, 70.2];
const smkEeuRussia = [78, 78, 85.6, 106.1, 119.1, 113.9, 104, 94.8, 92.9, 102.9, 109.4, 111.6, 116.4, 118.9, 115.3, 119.7, 108.3, 102.3, 104, 98.6, 99.4, 92.1, 88.3, 85, 85.6, 82.9, 80.1, 74.2, 72.8, 72.8];

const smkMercArgentina = [65.4, 62.5, 60.3, 57.5, 53.9, 51.8, 49.9, 48.1, 46.8, 45.2, 42.2, 40.7, 40.3, 39.1, 36.7, 35, 34, 33.7, 31.9, 31.1, 30.4, 29.7, 29, 28.3, 27.2, 27.2, 27.8, 27.5, 27.2, 26.6];
const smkMercBolivia = [31.7, 30.4, 29.2, 27.8, 25.9, 24.7, 23, 21.8, 20.8, 19.6, 18.2, 16.9, 15.8, 14.9, 14.2, 13.5, 13.1, 12.8, 12.4, 12.3, 12, 12, 11.8, 11.8, 11.7, 11.7, 11.6, 11.5, 11.5, 11.5];
const smkMercBrazil = [81.3, 76.9, 74.8, 73.9, 71.2, 68.9, 66.5, 62.9, 61.2, 58.9, 56, 53.9, 51.8, 50.1, 48.1, 44.6, 43.2, 41.5, 40.2, 38.4, 36.9, 35.5, 33.8, 32.2, 30.1, 28.6, 28, 26.8, 25.7, 24.7];
const smkMercParaguay = [50.3, 47, 49.2, 49.4, 49.4, 49, 48.1, 43.9, 42.9, 42, 40.2, 38, 36.9, 37.3, 38, 38, 38, 37.1, 36.7, 37.3, 37.1, 35.5, 33.7, 33.1, 31.4, 31.1, 31.7, 31.1, 30.6, 30.2];
const smkMercUruguay = [51.7, 47.7, 48.1, 48.2, 46.6, 45.8, 44.6, 42.7, 42.5, 41.6, 40.2, 38.9, 38.4, 38.1, 36.9, 35.8, 34.5, 34, 32.2, 30.8, 29.7, 29.2, 28.3, 27.2, 26.1, 25.6, 25, 25, 24.4, 23.9];
const smkMercVenezuela = [55.7, 54.9, 53.7, 51.8, 51.1, 48.1, 45.2, 41.2, 40.5, 38.7, 37.3, 36.4, 35.7, 35.7, 32.6, 31.7, 32.4, 32.2, 31.9, 30.8, 27.5, 26.6, 26.5, 24.9, 23.7, 23.2, 23.4, 23.4, 23.6, 24.2];

// ---- y tick labels ----
const ticks0to200by50 = [0, 50, 100, 150, 200];
const ticks0to150by50 = [0, 50, 100, 150];
const ticks0to80by20 = [0, 20, 40, 60, 80];
const ticks0to400by100 = [0, 100, 200, 300, 400];
const ticks0to250by50 = [0, 50, 100, 150, 200, 250];
const ticks0to60by20 = [0, 20, 40, 60];
const ticks0to100by20 = [0, 20, 40, 60, 80, 100];

// ---- layout ----
const W = 4292;
const H = 4141;
const PW = 446;
const PH = 512;
const rowTop = [336, 1121, 1906, 2691, 3476];
const colLeft = [252, 1708, 3164];
const legendTextGap = [117, 117, 110];
const colHead = [
  { x: 745, letter: "A", rest: " Dietary risks" },
  { x: 2252, letter: "B", rest: " High BMI" },
  { x: 3665, letter: "C", rest: " Smoking" },
];
const SANS = "'Liberation Sans', Arial, Helvetica, sans-serif";
const SERIF = "'Liberation Serif', 'Times New Roman', serif";

type Panel = {
  title: string;
  row: number;
  col: number;
  ticks: number[];
  names: string[];
  colors: string[];
  values: number[][];
  legOff: number;
  legStep: number;
  wrapAt?: number;
};

const panels: Panel[] = [
  { title: "SACU", row: 0, col: 0, ticks: ticks0to200by50, names: sacuNames, legOff: 55, legStep: 57,
    colors: ["#FF0000", "#FFFF00", "#0000FF", "#000000", "#16859A"],
    values: [dietSacuBotswana, dietSacuEswatini, dietSacuLesotho, dietSacuNamibia, dietSacuSouthAfrica] },
  { title: "SACU", row: 0, col: 1, ticks: ticks0to150by50, names: sacuNames, legOff: 42, legStep: 57,
    colors: ["#FF0000", "#000000", "#DD00DD", "#22EE22", "#0000FF"],
    values: [bmiSacuBotswana, bmiSacuEswatini, bmiSacuLesotho, bmiSacuNamibia, bmiSacuSouthAfrica] },
  { title: "SACU", row: 0, col: 2, ticks: ticks0to80by20, names: sacuNames, legOff: 45, legStep: 57, wrapAt: 6,
    colors: ["#000000", "#00CC88", "#0000FF", "#FF0000", "#FFFF00"],
    values: [smkSacuBotswana, smkSacuEswatini, smkSacuLesotho, smkSacuNamibia, smkSacuSouthAfrica] },

  { title: "SAARC", row: 1, col: 0, ticks: ticks0to400by100, names: saarcNames, legOff: 39, legStep: 56,
    colors: ["#000000", "#E8106A", "#CC55DD", "#0000FF", "#FF0000", "#FF55DD", "#FFFF00", "#00A070"],
    values: [dietSaarcAfghanistan, dietSaarcBangladesh, dietSaarcBhutan, dietSaarcIndia, dietSaarcMaldives, dietSaarcNepal, dietSaarcPakistan, dietSaarcSriLanka] },
  { title: "SAARC", row: 1, col: 1, ticks: ticks0to150by50, names: saarcNames, legOff: 37, legStep: 56,
    colors: ["#000000", "#FF1080", "#F090F0", "#FFFF00", "#00C000", "#FF8000", "#FF0000", "#0000FF"],
    values: [bmiSaarcAfghanistan, bmiSaarcBangladesh, bmiSaarcBhutan, bmiSaarcIndia, bmiSaarcMaldives, bmiSaarcNepal, bmiSaarcPakistan, bmiSaarcSriLanka] },
  { title: "SAARC", row: 1, col: 2, ticks: ticks0to150by50, names: saarcNames, legOff: 33, legStep: 55,
    colors: ["#00A8FF", "#F0106A", "#00FF00", "#008000", "#000000", "#FFFF00", "#FF0000", "#FF6600"],
    values: [smkSaarcAfghanistan, smkSaarcBangladesh, smkSaarcBhutan, smkSaarcIndia, smkSaarcMaldives, smkSaarcNepal, smkSaarcPakistan, smkSaarcSriLanka] },

  { title: "China-ASEAN FTA", row: 2, col: 0, ticks: ticks0to250by50, names: caftaNames, legOff: 43, legStep: 46,
    colors: ["#FF0000", "#CC00EE", "#A0A0A0", "#E06000", "#00C000", "#000000", "#968232", "#0000FF", "#00A0FF", "#FF1090", "#FFAAE6"],
    values: [dietCaBrunei, dietCaCambodia, dietCaChina, dietCaIndonesia, dietCaLao, dietCaMalaysia, dietCaMyanmar, dietCaPhilippines, dietCaSingapore, dietCaThailand, dietCaVietNam] },
  { title: "China-ASEAN FTA", row: 2, col: 1, ticks: ticks0to60by20, names: caftaNames, legOff: 26, legStep: 43.4,
    colors: ["#FF0000", "#0000FF", "#FFFF00", "#C00000", "#CC00EE", "#000000", "#80C0FF", "#0099B0", "#00C000", "#FFB478", "#968232"],
    values: [bmiCaBrunei, bmiCaCambodia, bmiCaChina, bmiCaIndonesia, bmiCaLao, bmiCaMalaysia, bmiCaMyanmar, bmiCaPhilippines, bmiCaSingapore, bmiCaThailand, bmiCaVietNam] },
  { title: "China-ASEAN FTA", row: 2, col: 2, ticks: ticks0to150by50, names: caftaNames, legOff: 42, legStep: 42.4,
    colors: ["#000000", "#CC00EE", "#00FF00", "#9090FF", "#0000FF", "#FFFF00", "#FF0000", "#009966", "#FFB0E6", "#6B0046", "#FF1080"],
    values: [smkCaBrunei, smkCaCambodia, smkCaChina, smkCaIndonesia, smkCaLao, smkCaMalaysia, smkCaMyanmar, smkCaPhilippines, smkCaSingapore, smkCaThailand, smkCaVietNam] },

  { title: "EEU", row: 3, col: 0, ticks: ticks0to400by100, names: eeuNames, legOff: 41, legStep: 56,
    colors: ["#C8B478", "#A8620F", "#000000", "#FF4444", "#0A7F99"],
    values: [dietEeuArmenia, dietEeuBelarus, dietEeuKazakhstan, dietEeuKyrgyzstan, dietEeuRussia] },
  { title: "EEU", row: 3, col: 1, ticks: ticks0to200by50, names: eeuNames, legOff: 37, legStep: 55,
    colors: ["#D060E0", "#FF0000", "#000000", "#0000FF", "#00C000"],
    values: [bmiEeuArmenia, bmiEeuBelarus, bmiEeuKazakhstan, bmiEeuKyrgyzstan, bmiEeuRussia] },
  { title: "EEU", row: 3, col: 2, ticks: ticks0to150by50, names: eeuNames, legOff: 38, legStep: 55,
    colors: ["#FF0000", "#000000", "#FFFF00", "#009966", "#0000FF"],
    values: [smkEeuArmenia, smkEeuBelarus, smkEeuKazakhstan, smkEeuKyrgyzstan, smkEeuRussia] },

  { title: "Mercosur", row: 4, col: 0, ticks: ticks0to150by50, names: mercNames, legOff: 44, legStep: 55,
    colors: ["#FF0000", "#0000C8", "#FF1C8C", "#CC00EE", "#FFFF00", "#000000"],
    values: [dietMercArgentina, dietMercBolivia, dietMercBrazil, dietMercParaguay, dietMercUruguay, dietMercVenezuela] },
  { title: "Mercosur", row: 4, col: 1, ticks: ticks0to80by20, names: mercNames, legOff: 37, legStep: 55,
    colors: ["#FF0000", "#FFFF00", "#0000FF", "#F0106A", "#009DB5", "#000000"],
    values: [bmiMercArgentina, bmiMercBolivia, bmiMercBrazil, bmiMercParaguay, bmiMercUruguay, bmiMercVenezuela] },
  { title: "Mercosur", row: 4, col: 2, ticks: ticks0to100by20, names: mercNames, legOff: 36, legStep: 55,
    colors: ["#0000CC", "#FF99CC", "#000000", "#5A5AFF", "#CC55DD", "#FF0000"],
    values: [smkMercArgentina, smkMercBolivia, smkMercBrazil, smkMercParaguay, smkMercUruguay, smkMercVenezuela] },
];

function PanelView({ p }: { p: Panel }) {
  const maxT = p.ticks[p.ticks.length - 1];
  const left = colLeft[p.col] - (maxT < 100 ? 15 : 0);
  const top = rowTop[p.row];
  const right = left + PW;
  const bottom = top + PH;
  const x = d3.scaleLinear().domain([1990, 2020]).range([left, right]);
  const y = d3.scaleLinear().domain([0, maxT]).range([bottom, top]);
  const line = d3
    .line<number>()
    .x((_, i) => x(years[i]))
    .y((d) => y(d));
  const tx = right + legendTextGap[p.col];
  const legFont = 34;

  return (
    <g>
      <text x={(left + right) / 2} y={top - 58} textAnchor="middle" fontFamily={SANS} fontWeight="bold" fontSize={37}>
        {p.title}
      </text>
      <text
        transform={`translate(${left - 166},${top + PH / 2}) rotate(-90)`}
        textAnchor="middle"
        dy="0.35em"
        fontFamily={SERIF}
        fontWeight="bold"
        fontSize={40}
      >
        CVD_ASMR (per 100,000 persons-years)
      </text>
      {p.values.map((vals, k) => (
        <path key={k} d={line(vals) || ""} fill="none" stroke={p.colors[k]} strokeWidth={4.6} strokeLinejoin="round" />
      ))}
      <rect x={left} y={top} width={PW} height={PH} fill="none" stroke="#000" strokeWidth={4.5} />
      {p.ticks.map((t) => (
        <g key={t}>
          <line x1={left - 8} x2={left} y1={y(t)} y2={y(t)} stroke="#000" strokeWidth={4.5} />
          <text x={left - 12} y={y(t)} dy="0.36em" textAnchor="end" fontFamily={SANS} fontWeight="bold" fontSize={25}>
            {t}
          </text>
        </g>
      ))}
      {xTicks.map((t) => (
        <g key={t}>
          <line x1={x(t)} x2={x(t)} y1={bottom} y2={bottom + 8} stroke="#000" strokeWidth={4.5} />
          <text x={x(t)} y={bottom + 39} textAnchor="middle" fontFamily={SANS} fontWeight="bold" fontSize={25}>
            {t}
          </text>
        </g>
      ))}
      <text x={(left + right) / 2} y={bottom + 106} textAnchor="middle" fontFamily={SANS} fontWeight="bold" fontSize={29}>
        Year
      </text>
      {p.names.map((name, i) => {
        const yc = top + p.legOff + i * p.legStep;
        const wrapped = i === 0 && p.wrapAt !== undefined;
        const ys = wrapped ? yc + 21 : yc;
        return (
          <g key={name}>
            <line x1={right + 58} x2={right + 97} y1={ys} y2={ys} stroke={p.colors[i]} strokeWidth={6} />
            {wrapped ? (
              <>
                <text x={tx} y={yc} dy="0.35em" fontFamily={SANS} fontSize={legFont}>
                  {name.slice(0, p.wrapAt)}
                </text>
                <text x={tx} y={yc + 42} dy="0.35em" fontFamily={SANS} fontSize={legFont}>
                  {name.slice(p.wrapAt)}
                </text>
              </>
            ) : (
              <text x={tx} y={yc} dy="0.35em" fontFamily={SANS} fontSize={legFont}>
                {name}
              </text>
            )}
          </g>
        );
      })}
    </g>
  );
}

export default function App() {
  // The svg fills the viewport exactly, whatever its real pixel size is.
  return (
    <svg
      viewBox={`0 0 ${W} ${H}`}
      preserveAspectRatio="xMinYMin meet"
      style={{ position: "absolute", left: 0, top: 0, width: "100vw", height: "100vh", background: "#fff", display: "block" }}
    >
      <rect width={W} height={H} fill="#fff" />
      {colHead.map((h) => (
        <text key={h.letter} x={h.x} y={110} textAnchor="middle" fontFamily={SERIF} fontSize={92}>
          (<tspan fontWeight="bold">{h.letter}</tspan>){h.rest}
        </text>
      ))}
      {panels.map((p, i) => (
        <PanelView key={i} p={p} />
      ))}
    </svg>
  );
}
